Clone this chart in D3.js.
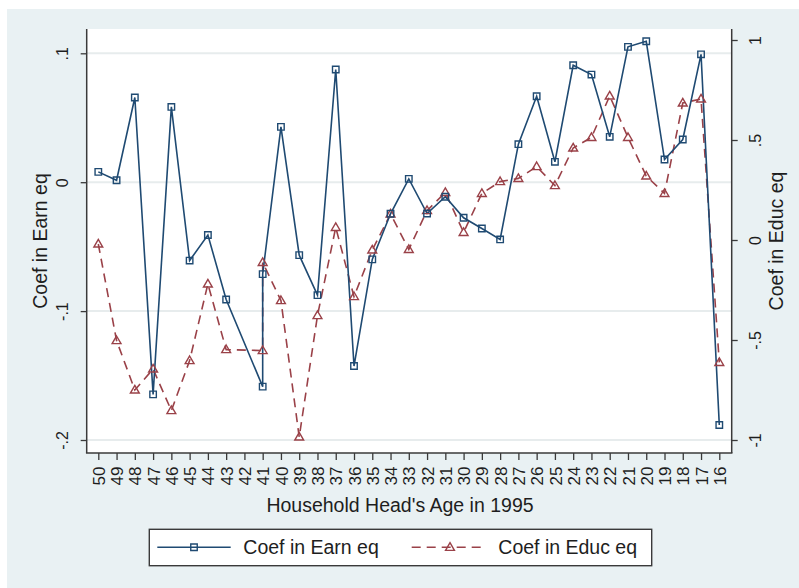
<!DOCTYPE html>
<html>
<head>
<meta charset="utf-8">
<script src="https://cdn.jsdelivr.net/npm/d3@7"></script>
<style>
  html, body { margin: 0; padding: 0; background: #ffffff; }
  svg { display: block; font-family: "Liberation Sans", Arial, sans-serif; }
</style>
</head>
<body>
<svg id="chart" width="799" height="588"></svg>
<script>
// Household head's age in 1995 (age 41 appears twice, 42 has no observation)
const ages = [50, 49, 48, 47, 46, 45, 44, 43, 41, 41, 40, 39, 38, 37, 36, 35, 34, 33, 32, 31,
              30, 29, 28, 27, 26, 25, 24, 23, 22, 21, 20, 19, 18, 17, 16];

// Coefficient in the earnings equation (left axis)
const earnCoef = [0.008, 0.0015, 0.0657, -0.1646, 0.0584, -0.0608, -0.041, -0.091, -0.1586, -0.0713,
                  0.0429, -0.0566, -0.0876, 0.0874, -0.1426, -0.0599, -0.0245, 0.0026, -0.0243, -0.0113,
                  -0.0276, -0.0359, -0.0444, 0.0295, 0.0667, 0.0158, 0.0907, 0.0835, 0.0352, 0.105,
                  0.1093, 0.0176, 0.0331, 0.0992, -0.1884];

// Coefficient in the education equation (right axis)
const educCoef = [-0.02, -0.503, -0.75, -0.645, -0.853, -0.603, -0.22, -0.548, -0.553, -0.112,
                  -0.303, -0.985, -0.378, 0.063, -0.283, -0.05, 0.13, -0.047, 0.147, 0.238,
                  0.038, 0.233, 0.292, 0.308, 0.367, 0.272, 0.46, 0.513, 0.72, 0.513,
                  0.32, 0.233, 0.685, 0.705, -0.612];

// Axis ticks and labels
const xTicks = d3.range(50, 15, -1);
const leftTicks = [-0.2, -0.1, 0, 0.1];
const leftTickLabels = ["-.2", "-.1", "0", ".1"];
const rightTicks = [-1, -0.5, 0, 0.5, 1];
const rightTickLabels = ["-1", "-.5", "0", ".5", "1"];

const seriesNames = ["Coef in Earn eq", "Coef in Educ eq"];
const xTitle = "Household Head's Age in 1995";

const navy = "#1f4a72";
const maroon = "#9a4148";
const axisColor = "#3a3a3a";
const textColor = "#1e1e1e";

const svg = d3.select("#chart");

// Graph region and plot region
const plot = { left: 86.7, right: 731.7, top: 29, bottom: 453 };

svg.append("rect").attr("x", 7).attr("y", 9).attr("width", 792).attr("height", 579)
  .attr("fill", "#e9f1f3");
svg.append("rect").attr("x", plot.left).attr("y", plot.top)
  .attr("width", plot.right - plot.left).attr("height", plot.bottom - plot.top)
  .attr("fill", "#ffffff");

// Scales
const x = d3.scaleLinear().domain([50, 16]).range([98.3, 719.3]);
const yLeft = d3.scaleLinear().domain([-0.2, 0.1]).range([440, 53.3]);
const yRight = d3.scaleLinear().domain([-1, 1]).range([440, 40]);

// Horizontal grid lines at the left-axis ticks
svg.append("g").selectAll("line").data(leftTicks).join("line")
  .attr("x1", plot.left).attr("x2", plot.right)
  .attr("y1", d => yLeft(d)).attr("y2", d => yLeft(d))
  .attr("stroke", "#e7eced").attr("stroke-width", 2);

// Axes
function styleAxis(g, size) {
  g.select(".domain").attr("stroke", axisColor).attr("stroke-width", 1.5);
  g.selectAll(".tick line").attr("stroke", axisColor).attr("stroke-width", 1.3);
  g.selectAll(".tick text").attr("fill", textColor).attr("font-size", size)
    .attr("font-family", "Liberation Sans, Arial, sans-serif");
}

const gLeft = svg.append("g").attr("transform", `translate(${plot.left},0)`)
  .call(d3.axisLeft(yLeft).tickValues(leftTicks)
    .tickFormat((d, i) => leftTickLabels[i]).tickSize(6).tickSizeOuter(0));
gLeft.select(".domain").attr("d", `M0,${plot.top}V${plot.bottom}`);
styleAxis(gLeft, 16);
gLeft.selectAll(".tick text").attr("x", 0).attr("dy", 0).attr("text-anchor", "middle")
  .attr("transform", "translate(-18.5,0) rotate(-90)");

const gRight = svg.append("g").attr("transform", `translate(${plot.right},0)`)
  .call(d3.axisRight(yRight).tickValues(rightTicks)
    .tickFormat((d, i) => rightTickLabels[i]).tickSize(6).tickSizeOuter(0));
gRight.select(".domain").attr("d", `M0,${plot.top}V${plot.bottom}`);
styleAxis(gRight, 16);
gRight.selectAll(".tick text").attr("x", 0).attr("dy", 0).attr("text-anchor", "middle")
  .attr("transform", "translate(29,0) rotate(-90)");

const gBottom = svg.append("g").attr("transform", `translate(0,${plot.bottom})`)
  .call(d3.axisBottom(x).tickValues(xTicks).tickFormat(d3.format("d"))
    .tickSize(7).tickSizeOuter(0));
gBottom.select(".domain").attr("d", `M${plot.left - 0.75},0H${plot.right + 0.75}`);
styleAxis(gBottom, 17);
gBottom.selectAll(".tick text").attr("x", 0).attr("y", 0).attr("dy", 0)
  .attr("text-anchor", "end")
  .attr("transform", "translate(6.1,13.5) rotate(-90)");

// Axis titles
svg.append("text").attr("transform", `translate(46.5,${(plot.top + plot.bottom) / 2}) rotate(-90)`)
  .attr("text-anchor", "middle").attr("font-size", 19.5).attr("fill", textColor)
  .text(seriesNames[0]);
svg.append("text").attr("transform", `translate(783,${(plot.top + plot.bottom) / 2}) rotate(-90)`)
  .attr("text-anchor", "middle").attr("font-size", 19.5).attr("fill", textColor)
  .text(seriesNames[1]);
svg.append("text").attr("x", 400).attr("y", 512)
  .attr("text-anchor", "middle").attr("font-size", 19.5).attr("fill", textColor)
  .text(xTitle);

// Series
const earnPts = ages.map((a, i) => [x(a), yLeft(earnCoef[i])]);
const educPts = ages.map((a, i) => [x(a), yRight(educCoef[i])]);
const line = d3.line();

svg.append("path").attr("d", line(educPts)).attr("fill", "none")
  .attr("stroke", maroon).attr("stroke-width", 1.6).attr("stroke-dasharray", "9,6");
svg.append("path").attr("d", line(earnPts)).attr("fill", "none")
  .attr("stroke", navy).attr("stroke-width", 1.6);

const triangle = d3.symbol().type(d3.symbolTriangle).size(34);
const square = d3.symbol().type(d3.symbolSquare).size(42);

svg.append("g").selectAll("path").data(educPts).join("path")
  .attr("transform", d => `translate(${d[0]},${d[1] + 0.5})`)
  .attr("d", triangle).attr("fill", "none").attr("stroke", maroon).attr("stroke-width", 1.4);
svg.append("g").selectAll("path").data(earnPts).join("path")
  .attr("transform", d => `translate(${d[0]},${d[1]})`)
  .attr("d", square).attr("fill", "none").attr("stroke", navy).attr("stroke-width", 1.4);

// Legend
const lg = svg.append("g");
lg.append("rect").attr("x", 149.3).attr("y", 529.3).attr("width", 502.4).attr("height", 36.4)
  .attr("fill", "#ffffff").attr("stroke", axisColor).attr("stroke-width", 1.4);
const ly = 547.3;
lg.append("line").attr("x1", 157.3).attr("x2", 230.7).attr("y1", ly).attr("y2", ly)
  .attr("stroke", navy).attr("stroke-width", 1.6);
lg.append("path").attr("transform", `translate(194,${ly})`).attr("d", square)
  .attr("fill", "none").attr("stroke", navy).attr("stroke-width", 1.4);
lg.append("text").attr("x", 243.3).attr("y", ly + 7).attr("font-size", 19.5)
  .attr("fill", textColor).text(seriesNames[0]);
lg.append("line").attr("x1", 411.7).attr("x2", 486.7).attr("y1", ly).attr("y2", ly)
  .attr("stroke", maroon).attr("stroke-width", 1.6).attr("stroke-dasharray", "9,6");
lg.append("path").attr("transform", `translate(450,${ly + 0.5})`).attr("d", triangle)
  .attr("fill", "none").attr("stroke", maroon).attr("stroke-width", 1.4);
lg.append("text").attr("x", 498.3).attr("y", ly + 7).attr("font-size", 19.5)
  .attr("fill", textColor).text(seriesNames[1]);
</script>
</body>
</html>
